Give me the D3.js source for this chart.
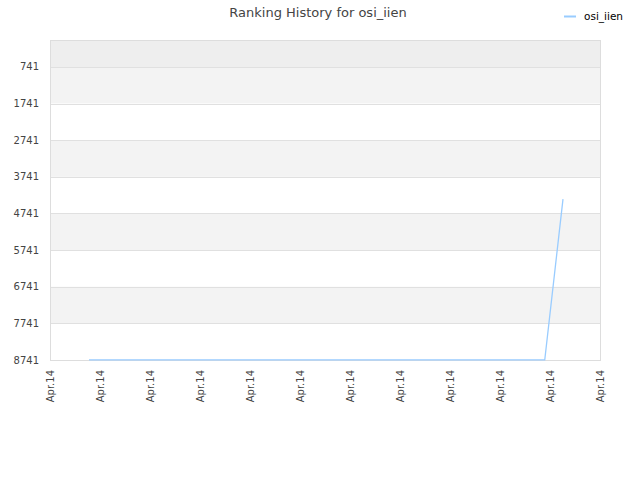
<!DOCTYPE html>
<html><head><meta charset="utf-8">
<script src="https://cdn.jsdelivr.net/npm/d3@7"></script>
<style>body{margin:0;background:#fff;font-family:"DejaVu Sans",sans-serif}</style>
</head><body><svg id="c" width="640" height="480"></svg>
<script>
const title = "Ranking History for osi_iien";
const seriesName = "osi_iien";
const yTicks = [741, 1741, 2741, 3741, 4741, 5741, 6741, 7741, 8741];
const xTickLabels = ["Apr.14","Apr.14","Apr.14","Apr.14","Apr.14","Apr.14","Apr.14","Apr.14","Apr.14","Apr.14","Apr.14","Apr.14"];
const dayIndex = [0,1,2,3,4,5,6,7,8,9,10,11,12,13,14,15,16,17,18,19,20,21,22,23,24,25,26];
const ranks = [8735,8735,8735,8735,8735,8735,8735,8735,8735,8735,8735,8735,8735,8735,8735,8735,8735,8735,8735,8735,8735,8735,8735,8735,8735,8735,4350];

const svg = d3.select("#c");
const L = 50, R = 600, T = 40, B = 360;
const x = d3.scaleLinear().domain([-2.14, 28.03]).range([L, R]);
const y = d3.scaleLinear().domain([4, 8741]).range([T, B]);

// background bands
const bounds = [y.domain()[0], ...yTicks];
for (let i = 0; i < bounds.length - 1; i++) {
  let fill = i === 0 ? "#eeeeee" : (i % 2 === 1 ? "#f3f3f3" : "#ffffff");
  svg.append("rect").attr("x", L).attr("width", R - L)
    .attr("y", y(bounds[i])).attr("height", y(bounds[i+1]) - y(bounds[i]))
    .attr("fill", fill);
}
// grid lines
svg.selectAll(".g").data(yTicks).enter().append("line")
  .attr("x1", L).attr("x2", R).attr("y1", d => Math.round(y(d)) + 0.5).attr("y2", d => Math.round(y(d)) + 0.5)
  .attr("stroke", "#e0e0e0");
// border
svg.append("rect").attr("x", L + 0.5).attr("y", T + 0.5).attr("width", R - L).attr("height", B - T)
  .attr("fill", "none").attr("stroke", "#dddddd");

// y labels
svg.selectAll(".yl").data(yTicks).enter().append("text")
  .attr("x", 39).attr("y", d => y(d)).attr("dy", "0.35em")
  .attr("text-anchor", "end").attr("font-size", 10).attr("fill", "#444").text(d => d);

// x labels
const xd = x.domain();
const xTickVals = xTickLabels.map((_, i) => xd[0] + (xd[1] - xd[0]) * i / (xTickLabels.length - 1));
const xt = d3.scaleLinear().domain([0, xTickLabels.length - 1]).range([L, R]);
svg.selectAll(".xl").data(xTickLabels).enter().append("text")
  .attr("transform", (d, i) => `translate(${xt(i) + 4},${370}) rotate(-90)`)
  .attr("text-anchor", "end").attr("font-size", 10).attr("fill", "#444")
  .text(d => d);

// line
const data = dayIndex.map((d, i) => ({x: d, y: ranks[i]}));
svg.append("path").datum(data)
  .attr("d", d3.line().x(d => x(d.x)).y(d => y(d.y)))
  .attr("fill", "none").attr("stroke", "#99ccff").attr("stroke-width", 1.3);

// title
svg.append("text").attr("x", 318).attr("y", 17).attr("text-anchor", "middle")
  .attr("font-size", 13).attr("fill", "#444").text(title);

// legend
svg.append("line").attr("x1", 564).attr("x2", 576).attr("y1", 16.5).attr("y2", 16.5)
  .attr("stroke", "#99ccff").attr("stroke-width", 2);
svg.append("text").attr("x", 584).attr("y", 19.5).attr("font-size", 10.5).attr("fill", "#000").text(seriesName);
</script></body></html>
